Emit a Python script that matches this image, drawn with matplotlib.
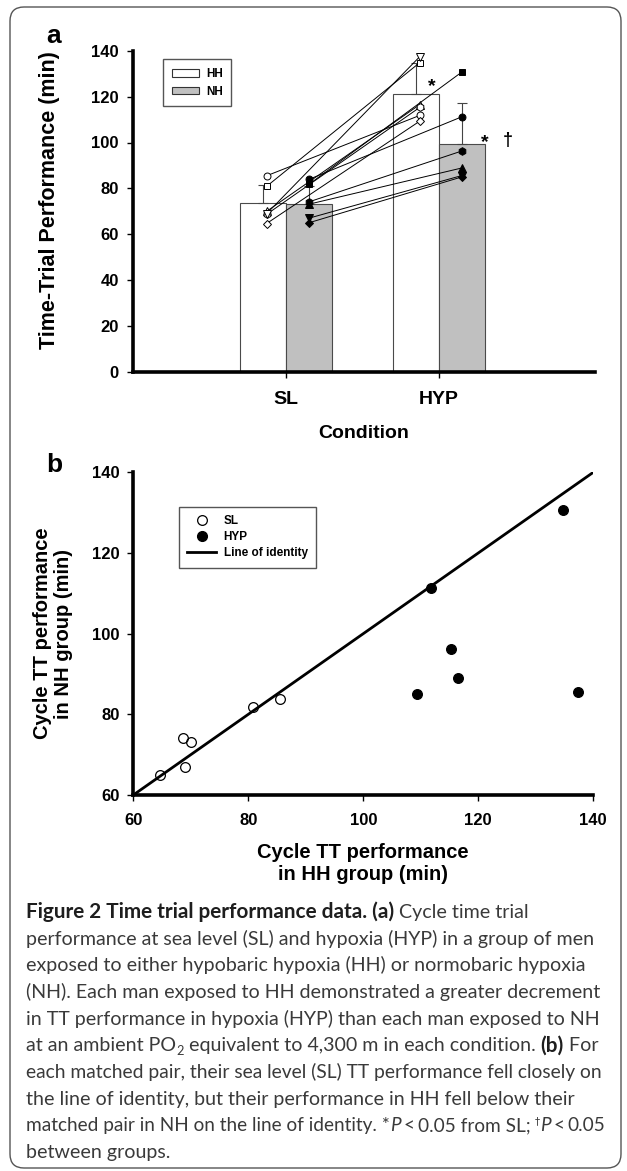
import matplotlib
matplotlib.use('Agg')
import matplotlib.pyplot as plt
from matplotlib.patches import FancyBboxPatch, Patch
from matplotlib.lines import Line2D

# ---------------- data ----------------
conditions = ['SL', 'HYP']
hh_mean = [73.8, 121.0]
nh_mean = [73.2, 99.4]
hh_sd = [7.5, 13.5]
nh_sd = [8.0, 18.0]

subject_markers = ['o', 's', '^', 'h', 'v', 'D']
hh_sl = [85.5, 80.9, 70.0, 68.7, 69.0, 64.7]
nh_sl = [83.9, 81.7, 73.1, 74.1, 67.0, 65.0]
hh_hyp = [111.8, 134.8, 116.5, 115.3, 137.4, 109.3]
nh_hyp = [111.2, 130.7, 88.9, 96.3, 85.6, 85.0]

a_yticks = [0, 20, 40, 60, 80, 100, 120, 140]
b_ticks = [60, 80, 100, 120, 140]
identity = [60, 140]

# ---------------- figure ----------------
W, H = 627, 1171
fig = plt.figure(figsize=(W / 100, H / 100), dpi=100)
plt.rcParams['font.family'] = ['Liberation Sans', 'DejaVu Sans']
BOLD = dict(fontweight='bold', family=['Liberation Sans', 'DejaVu Sans'])


def fx(px):
    return px / W


def fy(py):
    return 1 - py / H


# frame
frame = FancyBboxPatch((10, 3), 611, 1161, boxstyle='round,pad=0,rounding_size=14',
                       transform=None, fill=False, ec='#555555', lw=1.0)
fig.patches.append(frame)

# ---------------- panel a ----------------
axa = fig.add_axes([fx(132.7), fy(372), fx(595 - 132.7), (372 - 50.7) / H])
xpos = list(range(len(conditions)))
bw = 0.3
hh_x = [x - bw / 2 for x in xpos]
nh_x = [x + bw / 2 for x in xpos]
axa.bar(hh_x, hh_mean, width=bw, color='white', edgecolor='#4a4a4a', linewidth=0.8, zorder=1)
axa.bar(nh_x, nh_mean, width=bw, color='#c0c0c0', edgecolor='#4a4a4a', linewidth=0.8, zorder=1)
axa.errorbar(hh_x, hh_mean, yerr=[[0] * len(hh_sd), hh_sd], fmt='none', ecolor='#444444',
             elinewidth=0.8, capsize=3.5, capthick=0.8, zorder=2)
axa.errorbar(nh_x, nh_mean, yerr=[[0] * len(nh_sd), nh_sd], fmt='none', ecolor='#444444',
             elinewidth=0.8, capsize=3.5, capthick=0.8, zorder=2)

off = 0.025
ms_map = {'o': 5, 's': 4.5, '^': 5.5, 'h': 5.5, 'v': 5.5, 'D': 4.2}
for i, m in enumerate(subject_markers):
    axa.plot([hh_x[0] + off, hh_x[1] + off], [hh_sl[i], hh_hyp[i]], color='black', lw=0.7,
             marker=m, ms=ms_map[m], mfc='white', mec='black', mew=0.7, zorder=3)
    axa.plot([nh_x[0], nh_x[1]], [nh_sl[i], nh_hyp[i]], color='black', lw=0.7,
             marker=m, ms=ms_map[m], mfc='black', mec='black', mew=0.7, zorder=3)

axa.text(xpos[1] - 0.046, hh_mean[1] + 1.4, '*', ha='center', va='baseline', fontsize=14, **BOLD)
axa.text(xpos[1] + bw - 0.002, nh_mean[1] - 1.6, '*', ha='center', va='baseline', fontsize=14, **BOLD)
axa.text(xpos[1] + 0.45, nh_mean[1] - 0.3, '\u2020', ha='center', va='baseline', fontsize=13, **BOLD)

axa.set_xlim(-1, 2.02)
axa.set_ylim(0, 140)
axa.set_xticks(xpos)
axa.set_xticklabels(conditions, fontsize=14, **BOLD)
axa.set_yticks(a_yticks)
axa.set_yticklabels([str(v) for v in a_yticks], fontsize=12, **BOLD)
axa.tick_params(axis='y', length=4, width=1, pad=6)
axa.tick_params(axis='x', length=4, width=1, pad=10)
for s in ['top', 'right']:
    axa.spines[s].set_visible(False)
for s in ['left', 'bottom']:
    axa.spines[s].set_linewidth(2.6)

leg_a = axa.legend(handles=[Patch(fc='white', ec='#333333', lw=0.8, label='HH'),
                            Patch(fc='#c0c0c0', ec='#333333', lw=0.8, label='NH')],
                   loc='upper left', bbox_to_anchor=(0.065, 0.973), borderaxespad=0,
                   frameon=True, fancybox=False, edgecolor='#555555', framealpha=1,
                   prop=dict(weight='bold', size=8.5, family='Liberation Sans'),
                   handlelength=2.3, handleheight=0.6, handletextpad=0.6, borderpad=0.75,
                   labelspacing=0.45)
leg_a.get_frame().set_linewidth(1.0)

fig.text(fx(50), fy(200), 'Time-Trial Performance (min)', rotation=90, ha='center', va='center',
         fontsize=15.5, **BOLD)
fig.text(fx(363.8), fy(433), 'Condition', ha='center', va='center', fontsize=14, **BOLD)
fig.text(fx(46), fy(43), 'a', ha='left', va='baseline', fontsize=19, **BOLD)

# ---------------- panel b ----------------
axb = fig.add_axes([fx(133.3), fy(795), fx(460), (795 - 472.3) / H])
axb.plot(identity, identity, color='black', lw=2.0, zorder=2, solid_capstyle='butt')
axb.plot(hh_sl, nh_sl, ls='none', marker='o', ms=7, mfc='none', mec='black', mew=0.9, zorder=3)
axb.plot(hh_hyp, nh_hyp, ls='none', marker='o', ms=7, mfc='black', mec='black', mew=0.9, zorder=3)
axb.set_xlim(60, 140)
axb.set_ylim(60, 140)
axb.set_xticks(b_ticks)
axb.set_yticks(b_ticks)
axb.set_xticklabels([str(v) for v in b_ticks], fontsize=12, **BOLD)
axb.set_yticklabels([str(v) for v in b_ticks], fontsize=12, **BOLD)
axb.tick_params(axis='y', length=4, width=1, pad=6)
axb.tick_params(axis='x', length=4, width=1, pad=9)
for s in ['top', 'right']:
    axb.spines[s].set_visible(False)
for s in ['left', 'bottom']:
    axb.spines[s].set_linewidth(2.6)

leg_b = axb.legend(handles=[Line2D([], [], ls='none', marker='o', ms=7, mfc='none', mec='black', mew=0.9, label='SL'),
                            Line2D([], [], ls='none', marker='o', ms=7, mfc='black', mec='black', label='HYP'),
                            Line2D([], [], color='black', lw=2.0, label='Line of identity')],
                   loc='upper left', bbox_to_anchor=(0.0987, 0.893), borderaxespad=0,
                   frameon=True, fancybox=False, edgecolor='#555555', framealpha=1,
                   prop=dict(weight='bold', size=8.5, family='Liberation Sans'),
                   handlelength=2.5, handletextpad=0.6, borderpad=0.7, labelspacing=0.35)
leg_b.get_frame().set_linewidth(1.0)

fig.text(fx(53), fy(633.6), 'Cycle TT performance\nin NH group (min)', rotation=90, ha='center',
         va='center', ma='center', fontsize=14.5, linespacing=1.15, **BOLD)
fig.text(fx(363.3), fy(864), 'Cycle TT performance\nin HH group (min)', ha='center', va='center',
         ma='center', fontsize=14.5, linespacing=1.2, **BOLD)
fig.text(fx(46), fy(472), 'b', ha='left', va='baseline', fontsize=19, **BOLD)

# ---------------- caption ----------------
renderer = fig.canvas.get_renderer()


def run_width(text, **kw):
    if text == '':
        return 0.0
    t1 = fig.text(0, 0, '|' + text + '|', **kw)
    w1 = t1.get_window_extent(renderer).width
    t1.remove()
    t2 = fig.text(0, 0, '||', **kw)
    w2 = t2.get_window_extent(renderer).width
    t2.remove()
    return w1 - w2


CAP_FAMILY = ['Lato', 'DejaVu Sans']
fs0 = 10
w_ref = run_width('each matched pair, their sea level (SL) TT performance fell closely on',
                  family=CAP_FAMILY, fontsize=fs0)
fs = fs0 * 588.0 / w_ref

# bold run is a little wider in the reference typeface
w_bold = run_width('Figure 2 Time trial performance data. (a)', family=CAP_FAMILY, fontsize=fs,
                   fontweight='bold')
fsb = min(fs * 377.0 / w_bold, fs * 1.06)


def styles(scale):
    f = fs * scale
    return dict(
        REG=dict(family=CAP_FAMILY, fontsize=f, color='#3a3a3a'),
        BLD=dict(family=CAP_FAMILY, fontsize=fsb * scale, color='#1e1e1e', fontweight='bold'),
        ITA=dict(family=CAP_FAMILY, fontsize=f, color='#3a3a3a', style='italic'),
        SUB=dict(family=CAP_FAMILY, fontsize=f * 0.65, color='#3a3a3a'),
        SUP=dict(family=['DejaVu Sans'], fontsize=f * 0.55, color='#3a3a3a'),
    )


GAP = 'GAP'
caption_lines = [
    [('Figure 2 Time trial performance data. (a)', 'BLD', 0), (' Cycle time trial', 'REG', 0)],
    [('performance at sea level (SL) and hypoxia (HYP) in a group of men', 'REG', 0)],
    [('exposed to either hypobaric hypoxia (HH) or normobaric hypoxia', 'REG', 0)],
    [('(NH). Each man exposed to HH demonstrated a greater decrement', 'REG', 0)],
    [('in TT performance in hypoxia (HYP) than each man exposed to NH', 'REG', 0)],
    [('at an ambient PO', 'REG', 0), ('2', 'SUB', -4), (' equivalent to 4,300 m in each condition. ', 'REG', 0),
     ('(b)', 'BLD', 0), (' For', 'REG', 0)],
    [('each matched pair, their sea level (SL) TT performance fell closely on', 'REG', 0)],
    [('the line of identity, but their performance in HH fell below their', 'REG', 0)],
    [('matched pair in NH on the line of identity. *', 'REG', 0), ('P', 'ITA', 0), (GAP, 3, 0),
     ('<', 'REG', 0), (GAP, 3, 0), ('0.05 from SL; ', 'REG', 0),
     ('\u2020', 'SUP', 7), ('P', 'ITA', 0), (GAP, 3, 0), ('<', 'REG', 0), (GAP, 3, 0), ('0.05', 'REG', 0)],
    [('between groups.', 'REG', 0)],
]
max_right = 606.0

x0 = 26
base0 = 918
line_gap = 26.67


def line_width(runs, st):
    w = 0
    for text, style, dy in runs:
        if text == GAP:
            w += style
        else:
            w += run_width(text, **st[style])
    return w


for li, runs in enumerate(caption_lines):
    st = styles(1.0)
    wl = line_width(runs, st)
    if x0 + wl > max_right:
        st = styles((max_right - x0) / wl)
    x = x0
    yb = base0 + li * line_gap
    for text, style, dy in runs:
        if text == GAP:
            x += style
            continue
        fig.text(fx(x), fy(yb - dy), text, ha='left', va='baseline', **st[style])
        x += run_width(text, **st[style])

fig.savefig('out.png', dpi=100)
